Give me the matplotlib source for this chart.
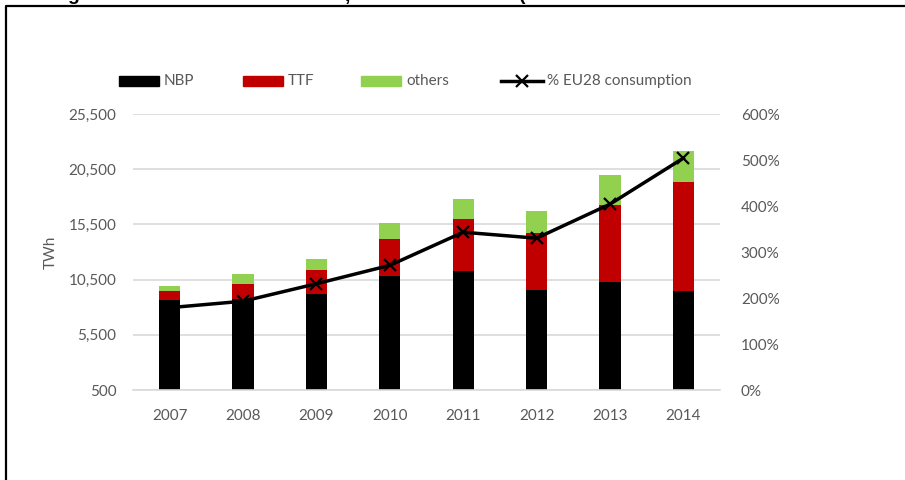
import matplotlib
matplotlib.use("Agg")
import matplotlib.pyplot as plt
import numpy as np
from matplotlib.patches import Rectangle
from matplotlib.lines import Line2D
from matplotlib.ticker import FuncFormatter

years = ["2007", "2008", "2009", "2010", "2011", "2012", "2013", "2014"]
nbp = [8630, 8700, 9170, 10860, 11250, 9600, 10290, 9450]
ttf = [820, 1440, 2230, 3340, 4760, 5150, 6990, 9930]
others = [450, 880, 990, 1420, 1830, 1990, 2680, 2800]
pct_eu28 = [179, 193, 231, 271, 343, 330, 404, 504]

left_ticks = [500, 5500, 10500, 15500, 20500, 25500]
right_ticks = [0, 100, 200, 300, 400, 500, 600]

C_NBP = "#000000"
C_TTF = "#C00000"
C_OTH = "#92D050"
TXT = "#595959"
GRID = "#D9D9D9"
FONT = "Lato"
FS = 11

W, H = 905, 480
fig = plt.figure(figsize=(W / 100, H / 100), dpi=100)
plt.rcParams['font.family'] = [FONT, 'DejaVu Sans']

def fx(px):
    return px / W

def fy(py):
    return 1 - py / H

ax = fig.add_axes([fx(133), fy(390), fx(720) - fx(133), fy(114) - fy(390)])
x = np.arange(len(years))
bw = 0.29
nbp_a = np.array(nbp)
ttf_a = np.array(ttf)
oth_a = np.array(others)
ax.bar(x, nbp_a, bw, color=C_NBP, zorder=2)
ax.bar(x, ttf_a, bw, bottom=nbp_a, color=C_TTF, zorder=2)
ax.bar(x, oth_a, bw, bottom=nbp_a + ttf_a, color=C_OTH, zorder=2)
ax.set_xlim(-0.5, len(years) - 0.5)
ax.set_ylim(left_ticks[0], left_ticks[-1])
ax.set_yticks(left_ticks)
ax.yaxis.set_major_formatter(FuncFormatter(lambda v, p: f"{int(v):,}"))
ax.set_xticks(x)
ax.set_xticklabels(years)
ax.grid(axis='y', color=GRID, lw=1.2, zorder=0)
for s in ["top", "right", "left"]:
    ax.spines[s].set_visible(False)
ax.spines["bottom"].set_color(GRID)
ax.spines["bottom"].set_linewidth(1.2)
ax.tick_params(axis='both', length=0, labelsize=FS, colors=TXT)
ax.tick_params(axis='y', pad=12)
ax.tick_params(axis='x', pad=14)
ax.set_ylabel("TWh", color=TXT, fontsize=FS, labelpad=8)

ax2 = ax.twinx()
ax2.plot(x, pct_eu28, color="black", lw=2.5, marker="x", ms=9, mew=1.6, zorder=5)
ax2.set_ylim(right_ticks[0], right_ticks[-1])
ax2.set_yticks(right_ticks)
ax2.yaxis.set_major_formatter(FuncFormatter(lambda v, p: f"{int(v)}%"))
for s in ["top", "right", "left", "bottom"]:
    ax2.spines[s].set_visible(False)
ax2.tick_params(axis='y', length=0, labelsize=FS, colors=TXT, pad=15)

# legend
ly = 81
items = [(119, C_NBP, "NBP"), (243, C_TTF, "TTF"), (361, C_OTH, "others")]
for x0, c, lab in items:
    fig.patches.append(Rectangle((fx(x0), fy(ly + 5)), fx(40), 10 / H,
                                 transform=fig.transFigure, color=c))
    fig.text(fx(x0 + 45), fy(ly), lab, color=TXT, fontsize=FS, va="center", ha="left")
fig.lines.append(Line2D([fx(501), fx(543)], [fy(ly), fy(ly)], transform=fig.transFigure,
                        color="black", lw=2.5, marker=None))
fig.lines.append(Line2D([fx(522)], [fy(ly)], transform=fig.transFigure,
                        color="black", marker="x", ms=9, mew=1.6, lw=0))
fig.text(fx(547), fy(ly), "% EU28 consumption", color=TXT, fontsize=FS, va="center", ha="left")

# frame
fig.lines.append(Line2D([fx(6), fx(6), fx(W + 5)], [fy(H + 5), fy(6), fy(6)],
                        transform=fig.transFigure, color="black", lw=1.6))

# cut-off title fragments (descenders of a title above the crop)
for px, ch in [(73, "g"), (347, ","), (522, "(")]:
    fig.text(fx(px), fy(0.5), ch, fontsize=14, fontweight="bold", ha="center",
             va="baseline", family="Liberation Sans", color="black")

fig.savefig("out.png", dpi=100)
